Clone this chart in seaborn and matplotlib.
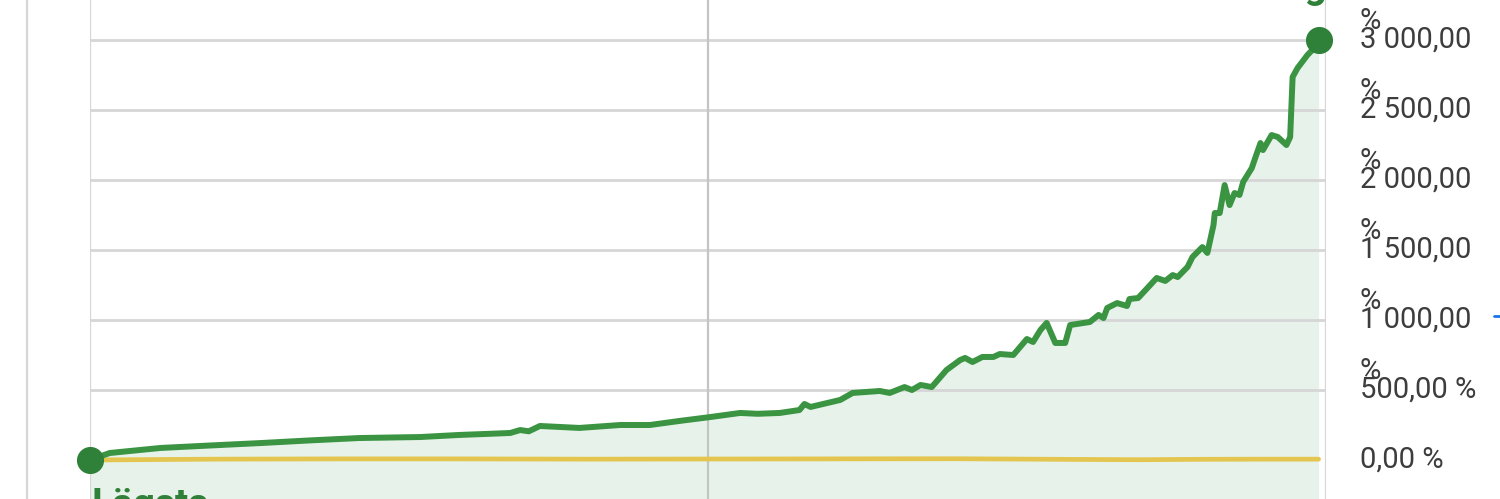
import matplotlib
matplotlib.use("Agg")
import matplotlib.pyplot as plt
import seaborn as sns
import pandas as pd
from matplotlib.lines import Line2D

## Fund development, years since start vs total return in %
years = [0.00, 0.16, 0.57, 0.98, 1.38, 1.78, 2.18, 2.67, 2.99, 3.20, 3.40, 3.48, 3.55, 3.64,
         3.80, 3.96, 4.29, 4.53, 4.77, 5.02, 5.26, 5.40, 5.58, 5.74, 5.78, 5.83, 6.07, 6.17,
         6.39, 6.47, 6.59, 6.65, 6.72, 6.81, 6.93, 7.04, 7.08, 7.14, 7.22, 7.31, 7.36, 7.47,
         7.58, 7.63, 7.69, 7.74, 7.81, 7.89, 7.93, 8.09, 8.16, 8.20, 8.23, 8.31, 8.39, 8.41,
         8.48, 8.54, 8.63, 8.70, 8.76, 8.80, 8.88, 8.92, 9.00, 9.04, 9.09, 9.10, 9.14, 9.18,
         9.22, 9.26, 9.30, 9.33, 9.40, 9.43, 9.47, 9.49, 9.56, 9.61, 9.68, 9.71, 9.73, 9.77,
         9.85, 9.89, 9.94]
returns = [0, 50, 86, 104, 121, 140, 157, 164, 179, 186, 193, 214, 205, 243,
           236, 229, 250, 250, 279, 307, 336, 330, 336, 357, 400, 379, 429, 479,
           493, 479, 521, 500, 536, 521, 643, 714, 729, 700, 736, 736, 757, 750,
           864, 843, 929, 979, 836, 836, 964, 986, 1036, 1014, 1086, 1121, 1100, 1150,
           1157, 1214, 1300, 1279, 1321, 1307, 1379, 1450, 1521, 1479, 1679, 1764, 1764, 1964,
           1821, 1907, 1893, 1986, 2086, 2164, 2264, 2214, 2321, 2307, 2250, 2307, 2736, 2800,
           2893, 2929, 3000]

## Comparison index (flat around zero)
bench_years = [0.0, 1.0, 2.0, 3.0, 4.0, 5.0, 6.0, 7.0, 8.0, 8.5, 9.0, 9.5, 9.94]
bench_returns = [0, 6, 8, 8, 6, 7, 8, 9, 4, 2, 5, 6, 6]

tick_values = [0, 500, 1000, 1500, 2000, 2500, 3000]
tick_labels = ["0,00 %", "500,00 %", "1 000,00", "1 500,00", "2 000,00", "2 500,00", "3 000,00"]

GREEN = "#3a9442"
DOT = "#2f8038"
YELLOW = "#e3c54f"
FILL = "#e7f3ea"
GRID = "#d6d6d6"

sns.set_theme(style="white")
plt.rcParams["font.family"] = ["Roboto", "DejaVu Sans"]

fig = plt.figure(figsize=(15, 4.99), dpi=100)
ax = fig.add_axes([90 / 1500, 0, 1236 / 1500, 1])

df = pd.DataFrame({"year": years, "ret": returns})
bench = pd.DataFrame({"year": bench_years, "ret": bench_returns})

ax.fill_between(df["year"], df["ret"], -400, color=FILL, zorder=1, linewidth=0)

# grid
for v in tick_values[1:]:
    ax.axhline(v, color=GRID, lw=2, zorder=2)
ax.axvline(0, color=GRID, lw=1.6, zorder=2)
ax.axvline(5, color="#c4c4c4", lw=1.6, zorder=2)
ax.axvline(10, color=GRID, lw=1.6, zorder=2)
fig.add_artist(Line2D([27 / 1500, 27 / 1500], [0, 1], color=GRID, lw=1.6))

sns.lineplot(data=bench, x="year", y="ret", color=YELLOW, lw=3.4, ax=ax, zorder=3)
sns.lineplot(data=df, x="year", y="ret", color=GREEN, lw=4.3, ax=ax, zorder=4)

# start / end dots
ax.plot([years[0], years[-1]], [returns[0], returns[-1]], "o", color=DOT, ms=18.5,
        zorder=5, clip_on=False)

ax.annotate("Högsta", (years[-1], returns[-1]), xytext=(0, 30), textcoords="offset points",
            ha="center", va="baseline", fontsize=28, fontweight="bold", color=DOT,
            annotation_clip=False)
ax.annotate("Lägsta", (years[0], returns[0]), xytext=(1, -40), textcoords="offset points",
            ha="left", va="baseline", fontsize=28, fontweight="bold", color=DOT,
            annotation_clip=False)

# right-hand value labels (the % sign wraps above the number)
tr = ax.get_yaxis_transform()
xlab = (1360 - 90) / 1236
for v, lab in zip(tick_values, tick_labels):
    ax.text(xlab, v, lab, transform=tr, ha="left", va="center", fontsize=21,
            color="#3d3d3d", clip_on=False)
    if v > 0:
        ax.text(xlab, v + 135, "%", transform=tr, ha="left", va="center", fontsize=21,
                color="#3d3d3d", clip_on=False)

fig.add_artist(Line2D([1494 / 1500, 1 - 0.0003], [1 - 316 / 499] * 2, color="#1a73e8", lw=2))

ax.set_xlim(0, 10)
ax.set_ylim((460 - 499) * 3000 / 420, 460 * 3000 / 420)
ax.set_xlabel("")
ax.set_ylabel("")
ax.set_xticks([])
ax.set_yticks([])
for s in ax.spines.values():
    s.set_visible(False)
ax.patch.set_alpha(0)

fig.savefig("out.png", dpi=100)
